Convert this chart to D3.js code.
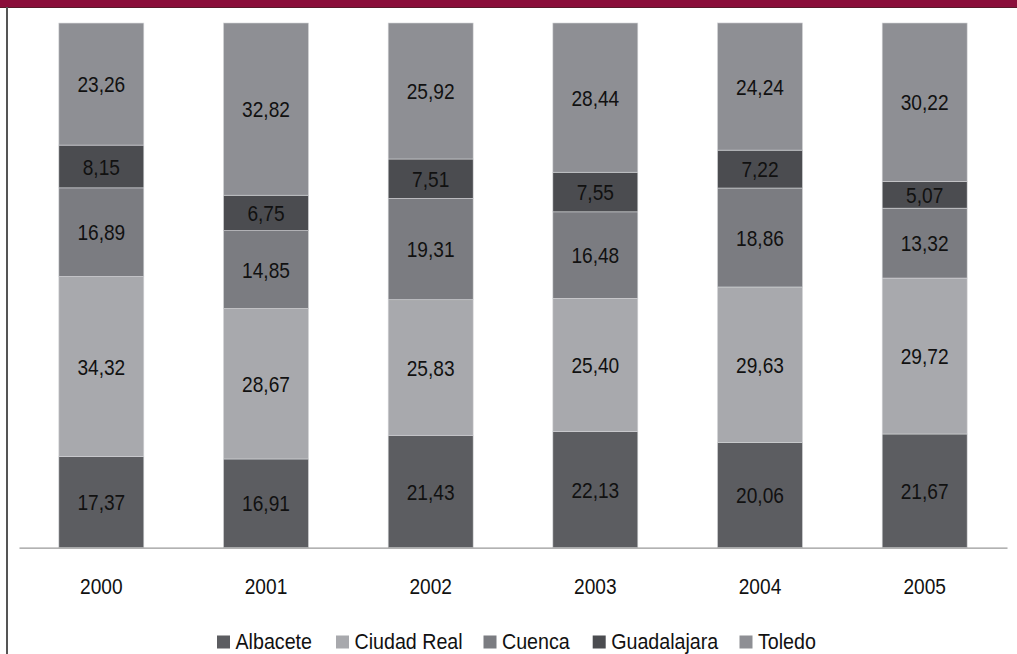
<!DOCTYPE html>
<html><head><meta charset="utf-8">
<script src="https://cdn.jsdelivr.net/npm/d3@7"></script>
<style>
body{margin:0;background:#fff;}
svg{display:block;}
text{font-family:"Liberation Sans",Arial,sans-serif;fill:#111;}
</style></head>
<body><svg id="c" width="1017" height="654"></svg>
<script>
const years = ["2000","2001","2002","2003","2004","2005"];
const seriesNames = ["Albacete","Ciudad Real","Cuenca","Guadalajara","Toledo"];
const albacete    = [17.37,16.91,21.43,22.13,20.06,21.67];
const ciudadReal  = [34.32,28.67,25.83,25.40,29.63,29.72];
const cuenca      = [16.89,14.85,19.31,16.48,18.86,13.32];
const guadalajara = [8.15,6.75,7.51,7.55,7.22,5.07];
const toledo      = [23.26,32.82,25.92,28.44,24.24,30.22];
const colors = ["#5c5d61","#a8a9ad","#7b7c81","#4b4c50","#8e8f94"];

const seriesValues = [albacete,ciudadReal,cuenca,guadalajara,toledo];
const rows = years.map((y,i)=>{const r={year:y}; seriesNames.forEach((s,j)=>r[s]=seriesValues[j][i]); return r;});
const stack = d3.stack().keys(seriesNames)(rows);

const svg = d3.select("#c");
svg.append("rect").attr("x",0).attr("y",0).attr("width",1017).attr("height",7).attr("fill","#8a0e3a");
svg.append("line").attr("x1",0).attr("x2",1017).attr("y1",7.5).attr("y2",7.5).attr("stroke","#5a1a2a").attr("stroke-width",1);
svg.append("line").attr("x1",7).attr("x2",7).attr("y1",7).attr("y2",654).attr("stroke","#555").attr("stroke-width",2);

const x = d3.scaleBand().domain(years).range([19,1007]).paddingInner(0.484).paddingOuter(0.242);
const y = d3.scaleLinear().domain([0,100]).range([547.7,23]);
const SX = 0.85;

const g = svg.append("g");
stack.forEach((layer,j)=>{
  g.selectAll(null).data(layer).enter().append("rect")
    .attr("x",d=>x(d.data.year)).attr("width",x.bandwidth())
    .attr("y",d=>y(d[1])).attr("height",d=>y(d[0])-y(d[1]))
    .attr("fill",colors[j]).attr("stroke","#d4d5d8").attr("stroke-width",0.6);
});
stack.forEach((layer,j)=>{
  g.selectAll(null).data(layer).enter().append("text")
    .attr("transform",d=>`translate(${x(d.data.year)+x.bandwidth()/2},${(y(d[0])+y(d[1]))/2}) scale(${SX},1)`)
    .attr("text-anchor","middle").attr("dominant-baseline","central")
    .attr("font-size",22.5)
    .text(d=>d3.format(".2f")(d[1]-d[0]).replace(".",","));
});

const ax = svg.append("g").attr("transform","translate(0,547.7)")
  .call(d3.axisBottom(x).tickSize(0).tickPadding(30).tickSizeOuter(0));
ax.select(".domain").attr("stroke","#999").attr("stroke-width",1.2);
ax.selectAll("text").attr("font-size",22.5).attr("fill","#111")
  .style("font-family",'"Liberation Sans",Arial,sans-serif').attr("transform",`scale(${SX},1)`);

const legX = [217,336,483.5,592.7,739.5];
const leg = svg.append("g");
seriesNames.forEach((s,j)=>{
  leg.append("rect").attr("x",legX[j]).attr("y",635.5).attr("width",13).attr("height",13).attr("fill",colors[j]);
  leg.append("text").attr("transform",`translate(${legX[j]+18.5},641.5) scale(0.91,1)`)
    .attr("dominant-baseline","central").attr("font-size",21.6).text(s);
});
</script></body></html>
